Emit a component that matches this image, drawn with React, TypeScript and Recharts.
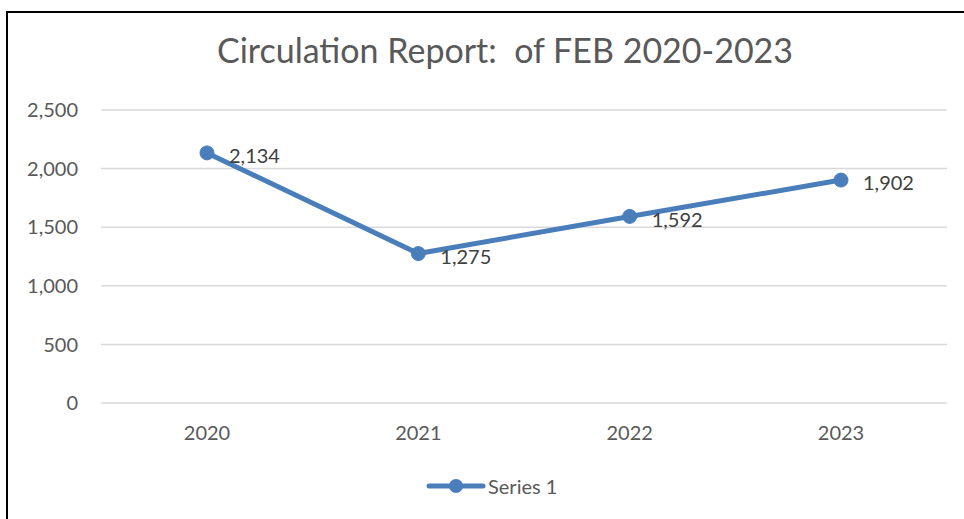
import React from "react";
import {
  LineChart,
  Line,
  XAxis,
  YAxis,
  CartesianGrid,
  LabelList,
} from "recharts";

const years = ["2020", "2021", "2022", "2023"];
const circulation = [2134, 1275, 1592, 1902];
const yTicks = [0, 500, 1000, 1500, 2000, 2500];

const data = years.map((year, i) => ({ year, value: circulation[i] }));

const FONT = "Lato, 'Open Sans', sans-serif";
const TEXT = "#595959";
const BLUE = "#4a7ebb";

const fmt = (v: number) => v.toLocaleString("en-US");

export default function App() {
  return (
    <div style={{ position: "absolute", left: 0, top: 0, width: 964, height: 519, overflow: "hidden", background: "#fff" }}>
      <div
        style={{
          position: "absolute",
          left: 6,
          top: 11,
          width: 1000,
          height: 560,
          border: "2px solid #000",
          boxSizing: "border-box",
        }}
      />
      <div
        style={{
          position: "absolute",
          left: 0,
          top: 29,
          width: 1010,
          textAlign: "center",
          fontFamily: FONT,
          fontSize: 34,
          color: TEXT,
          whiteSpace: "pre",
        }}
      >
        {"Circulation Report:  of FEB 2020-2023"}
      </div>
      <div style={{ position: "absolute", left: 0, top: 0 }}>
        <LineChart
          width={964}
          height={519}
          data={data}
          margin={{ top: 110, right: 17, bottom: 76, left: 0 }}
        >
          <CartesianGrid vertical={false} stroke="#d9d9d9" strokeWidth={1.5} />
          <XAxis
            dataKey="year"
            axisLine={false}
            tickLine={false}
            height={40}
            padding={{ left: 106, right: 106 }}
            tickMargin={17}
            tick={{ fontFamily: FONT, fontSize: 20, fill: TEXT }}
          />
          <YAxis
            width={101}
            domain={[0, 2500]}
            ticks={yTicks}
            axisLine={false}
            tickLine={false}
            tickMargin={17}
            tickFormatter={fmt}
            tick={{ fontFamily: FONT, fontSize: 20, fill: TEXT }}
          />
          <Line
            type="linear"
            dataKey="value"
            name="Series 1"
            stroke={BLUE}
            strokeWidth={5}
            dot={{ r: 7, fill: BLUE, stroke: BLUE, strokeWidth: 1 }}
            isAnimationActive={false}
          >
            <LabelList
              dataKey="value"
              position="right"
              offset={22}
              formatter={(v: any) => fmt(Number(v))}
              style={{ fontFamily: FONT, fontSize: 20, fill: "#404040" }}
              dy={3}
            />
          </Line>
        </LineChart>
      </div>
      <div
        style={{
          position: "absolute",
          left: 426,
          top: 474,
          display: "flex",
          alignItems: "center",
        }}
      >
        <svg width={60} height={18}>
          <line x1={3} y1={9} x2={57} y2={9} stroke={BLUE} strokeWidth={5} strokeLinecap="round" />
          <circle cx={30} cy={9} r={7} fill={BLUE} />
        </svg>
        <span style={{ fontFamily: FONT, fontSize: 20, color: TEXT, marginLeft: 2 }}>Series 1</span>
      </div>
    </div>
  );
}
